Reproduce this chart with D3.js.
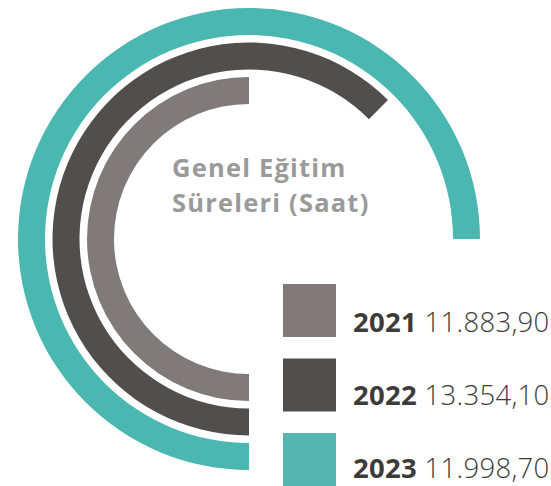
<!DOCTYPE html>
<html>
<head>
<meta charset="utf-8">
<script src="https://cdn.jsdelivr.net/npm/d3@7"></script>
<style>
  body { margin: 0; background: #fff; }
  svg { display: block; }
</style>
</head>
<body>
<div id="chart"></div>
<script>
// data
const years = ["2021", "2022", "2023"];
const values = ["11.883,90", "13.354,10", "11.998,70"];
const sweepDegrees = [180, 225, 270]; // how far each arc runs
const colors = ["#807a79", "#524e4b", "#4ab8b0"];
const legendColors = ["#807a79", "#524e4b", "#56b5b0"];
const titleLines = ["Genel Eğitim", "Süreleri (Saat)"];

const width = 551, height = 486;
const cx = 249, cy = 239;

const svg = d3.select("#chart")
  .append("svg")
  .attr("width", width)
  .attr("height", height);

// radius per ring
const r = d3.scaleBand()
  .domain(years)
  .range([135, 231])
  .paddingInner(7.5 / 34.5);

// degrees -> radians, arcs start at 6 o'clock and run clockwise
const angle = d3.scaleLinear().domain([0, 360]).range([0, 2 * Math.PI]);

const arc = d3.arc()
  .innerRadius(d => r(d.year))
  .outerRadius(d => r(d.year) + r.bandwidth())
  .startAngle(Math.PI)
  .endAngle(d => Math.PI + angle(d.sweep));

const rings = years.map((y, i) => ({ year: y, sweep: sweepDegrees[i], color: colors[i] }));

svg.append("g")
  .attr("transform", `translate(${cx},${cy})`)
  .selectAll("path")
  .data(rings)
  .join("path")
  .attr("d", arc)
  .attr("fill", d => d.color);

// title
svg.append("text")
  .attr("x", 172)
  .attr("y", 177)
  .attr("font-family", "'Open Sans', sans-serif")
  .attr("font-weight", "bold")
  .attr("font-size", 25.5)
  .attr("letter-spacing", 1.2)
  .attr("fill", "#9a9a9a")
  .selectAll("tspan")
  .data(titleLines)
  .join("tspan")
  .attr("x", 172)
  .attr("dy", (d, i) => i === 0 ? 0 : 35)
  .text(d => d);

// legend
const legend = svg.append("g")
  .selectAll("g")
  .data(years)
  .join("g");

legend.append("rect")
  .attr("x", 283)
  .attr("y", (d, i) => 284 + i * 74.5)
  .attr("width", 53)
  .attr("height", 53)
  .attr("fill", (d, i) => legendColors[i]);

const label = legend.append("text")
  .attr("x", 353)
  .attr("y", (d, i) => 332 + i * 73)
  .attr("font-family", "'Open Sans', sans-serif")
  .attr("font-size", 27.5)
  .attr("letter-spacing", 0.3)
  .attr("fill", "#3d3b3a");

label.append("tspan")
  .attr("font-weight", "bold")
  .text(d => d);

label.append("tspan")
  .attr("font-weight", 300)
  .text((d, i) => " " + values[i]);
</script>
</body>
</html>
